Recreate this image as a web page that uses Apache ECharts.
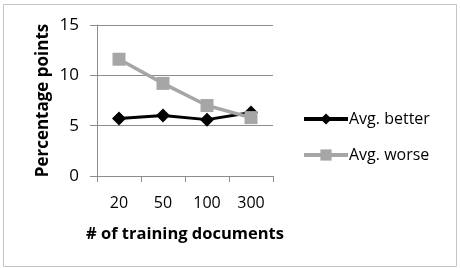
<!DOCTYPE html>
<html>
<head>
<meta charset="utf-8">
<script src="https://cdn.jsdelivr.net/npm/echarts@6/dist/echarts.min.js"></script>
<style>
html, body { margin: 0; padding: 0; background: #fff; }
#chart { width: 460px; height: 268px; }
</style>
</head>
<body>
<div id="chart"></div>
<script>
const categories = ['20', '50', '100', '300'];
const avgBetter = [5.7, 6.0, 5.6, 6.3];
const avgWorse = [11.6, 9.2, 7.0, 5.8];
const yTicks = { min: 0, max: 15, interval: 5 };

const font = 'Open Sans, sans-serif';
const chart = echarts.init(document.getElementById('chart'));

chart.setOption({
  animation: false,
  textStyle: { fontFamily: font },
  graphic: [{
    type: 'rect',
    shape: { x: 3.5, y: 4.5, width: 453, height: 262 },
    style: { fill: 'none', stroke: '#c4c4c4', lineWidth: 1 },
    silent: true
  }],
  grid: { left: 97, right: 187, top: 25, bottom: 92 },
  legend: {
    orient: 'vertical',
    left: 297,
    top: 106,
    itemWidth: 44,
    itemHeight: 14,
    itemGap: 20,
    lineStyle: { width: 4 },
    textStyle: { fontSize: 16, color: '#000', fontFamily: font, padding: [0, 0, 0, -4] },
    data: ['Avg. better', 'Avg. worse']
  },
  xAxis: {
    type: 'category',
    data: categories,
    boundaryGap: true,
    name: '# of training documents',
    nameLocation: 'middle',
    nameGap: 50,
    nameTextStyle: { fontSize: 16.5, fontWeight: 'bold', color: '#000' },
    axisLine: { lineStyle: { color: '#8c8c8c', width: 1 } },
    axisTick: { show: true, length: 6, lineStyle: { color: '#8c8c8c' } },
    axisLabel: { fontSize: 16, color: '#000', margin: 19 }
  },
  yAxis: {
    type: 'value',
    min: yTicks.min,
    max: yTicks.max,
    interval: yTicks.interval,
    name: 'Percentage points',
    nameLocation: 'middle',
    nameGap: 45,
    nameTextStyle: { fontSize: 17, fontWeight: 'bold', color: '#000' },
    axisLine: { show: true, lineStyle: { color: '#8c8c8c', width: 1 } },
    axisTick: { show: true, length: 7, lineStyle: { color: '#8c8c8c' } },
    axisLabel: { fontSize: 17, color: '#000', margin: 18 },
    splitLine: { lineStyle: { color: '#8c8c8c', width: 1 } }
  },
  series: [{
    name: 'Avg. better',
    type: 'line',
    data: avgBetter,
    symbol: 'diamond',
    symbolSize: 14,
    lineStyle: { color: '#000', width: 3 },
    itemStyle: { color: '#000' },
    z: 2
  }, {
    name: 'Avg. worse',
    type: 'line',
    data: avgWorse,
    symbol: 'rect',
    symbolSize: 13,
    lineStyle: { color: '#a6a6a6', width: 3.5 },
    itemStyle: { color: '#a6a6a6' },
    z: 3
  }]
});
</script>
</body>
</html>
